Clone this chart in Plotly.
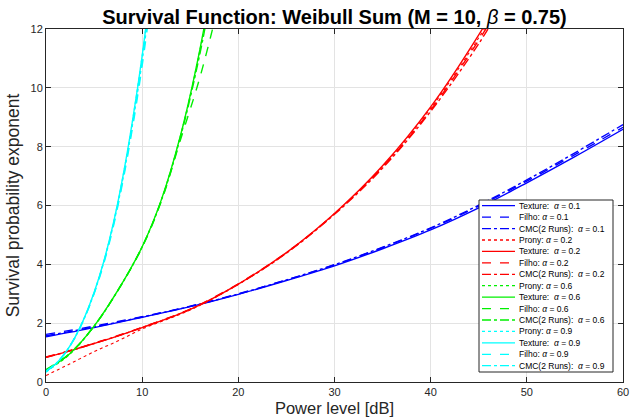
import plotly.graph_objects as go

# ---------------- data ----------------
x_blue = [0, 5, 10, 15, 20, 25, 30, 35, 40, 45, 50, 55, 60]
blue_texture = [1.54, 1.85, 2.20, 2.56, 2.98, 3.45, 3.95, 4.53, 5.17, 5.92, 6.77, 7.66, 8.59]
blue_filho   = [1.62, 1.90, 2.22, 2.58, 3.00, 3.47, 3.98, 4.57, 5.22, 5.98, 6.83, 7.73, 8.66]
blue_cmc     = [1.57, 1.87, 2.21, 2.57, 2.99, 3.47, 3.99, 4.58, 5.24, 6.01, 6.87, 7.79, 8.75]

x_red = [0, 2.5, 5, 7.5, 10, 15, 20, 25, 30, 35, 40, 45, 47.5]
red_texture = [0.84, 1.06, 1.31, 1.57, 1.85, 2.47, 3.33, 4.40, 5.73, 7.35, 9.35, 11.80, 13.20]
red_filho   = [0.85, 1.07, 1.32, 1.58, 1.86, 2.48, 3.34, 4.40, 5.72, 7.30, 9.25, 11.62, 12.95]
red_cmc     = [0.84, 1.06, 1.31, 1.57, 1.85, 2.47, 3.32, 4.38, 5.70, 7.27, 9.20, 11.50, 12.85]
red_prony   = [0.22, 0.62, 1.03, 1.40, 1.80, 2.45, 3.32, 4.39, 5.72, 7.32, 9.30, 11.70, 13.05]

x_green = [0, 2.5, 5, 7.5, 10, 12, 14, 16, 18]
green_texture = [0.40, 0.97, 1.90, 3.13, 4.60, 6.20, 8.40, 11.30, 15.00]
green_filho   = [0.42, 0.98, 1.90, 3.12, 4.58, 6.15, 8.25, 10.35, 12.90]
green_cmc     = [0.40, 0.97, 1.90, 3.13, 4.60, 6.18, 8.35, 11.15, 14.70]
green_prony   = [0.36, 0.95, 1.89, 3.12, 4.59, 6.20, 8.40, 11.28, 14.95]

x_cyan = [0, 1, 2, 3, 4, 5, 6, 7, 8, 9, 10, 11]
cyan_texture = [0.36, 0.61, 0.99, 1.51, 2.19, 3.04, 4.09, 5.39, 6.99, 8.89, 11.09, 13.69]
cyan_filho   = [0.37, 0.62, 0.99, 1.50, 2.17, 3.00, 4.02, 5.28, 6.83, 8.65, 10.75, 13.20]
cyan_cmc     = [0.36, 0.61, 0.99, 1.51, 2.18, 3.02, 4.06, 5.34, 6.91, 8.77, 10.92, 13.45]
cyan_prony   = [0.33, 0.59, 0.98, 1.51, 2.19, 3.04, 4.09, 5.39, 6.99, 8.90, 11.10, 13.70]

x_ticks = [0, 10, 20, 30, 40, 50, 60]
y_ticks = [0, 2, 4, 6, 8, 10, 12]

legend_labels = [
    "Texture:  <i>α</i> = 0.1", "Filho: <i>α</i> = 0.1", "CMC(2 Runs):  <i>α</i> = 0.1",
    "Prony: <i>α</i> = 0.2", "Texture:  <i>α</i> = 0.2", "Filho: <i>α</i> = 0.2",
    "CMC(2 Runs):  <i>α</i> = 0.2", "Prony: <i>α</i> = 0.6", "Texture:  <i>α</i> = 0.6",
    "Filho: <i>α</i> = 0.6", "CMC(2 Runs):  <i>α</i> = 0.6", "Prony: <i>α</i> = 0.9",
    "Texture:  <i>α</i> = 0.9", "Filho: <i>α</i> = 0.9", "CMC(2 Runs):  <i>α</i> = 0.9",
]

BLUE, RED, GREEN, CYAN = "#0000ff", "#ff0000", "#00f000", "#00ffff"
legend_colors = [BLUE, BLUE, BLUE, RED, RED, RED, RED, GREEN, GREEN, GREEN, GREEN,
                 CYAN, CYAN, CYAN, CYAN]
legend_dashes = ["solid", "dash", "dashdot", "dot", "solid", "dash", "dashdot", "dot",
                 "solid", "dash", "dashdot", "dot", "solid", "dash", "dashdot"]

fig = go.Figure()

def add(x, y, color, dash, width=1.4):
    fig.add_trace(go.Scatter(x=x, y=y, mode="lines", showlegend=False,
                             line=dict(color=color, dash=dash, width=width, shape="spline",
                                       smoothing=1.0)))

add(x_blue, blue_texture, BLUE, "solid")
add(x_blue, blue_filho, BLUE, "dash")
add(x_blue, blue_cmc, BLUE, "dashdot")
add(x_red, red_prony, RED, "dot", 1.1)
add(x_red, red_texture, RED, "solid")
add(x_red, red_filho, RED, "dash")
add(x_red, red_cmc, RED, "dashdot")
add(x_green, green_prony, GREEN, "dot", 1.1)
add(x_green, green_texture, GREEN, "solid")
add(x_green, green_filho, GREEN, "dash")
add(x_green, green_cmc, GREEN, "dashdot")
add(x_cyan, cyan_prony, CYAN, "dot", 1.1)
add(x_cyan, cyan_texture, CYAN, "solid")
add(x_cyan, cyan_filho, CYAN, "dash")
add(x_cyan, cyan_cmc, CYAN, "dashdot")

# ---------------- custom compact legend ----------------
L, R, T, B = 46, 623, 29, 382
W, H = R - L, B - T
def px(x): return (x - L) / W
def py(y): return (B - y) / H

shapes = [dict(type="rect", xref="paper", yref="paper",
               x0=px(479), x1=px(613), y0=py(372), y1=py(200),
               line=dict(color="#262626", width=1), fillcolor="white", layer="above")]
annotations = []
row0, step = 205.7, 11.43
for i, (lab, col, dsh) in enumerate(zip(legend_labels, legend_colors, legend_dashes)):
    yy = row0 + i * step
    shapes.append(dict(type="line", xref="paper", yref="paper",
                       x0=px(482), x1=px(515), y0=py(yy), y1=py(yy),
                       line=dict(color=col, dash=dsh, width=1.3), layer="above"))
    annotations.append(dict(xref="paper", yref="paper", x=px(517), y=py(yy),
                            text=lab, showarrow=False, xanchor="left", yanchor="middle",
                            font=dict(size=8.5, color="#000000", family="Liberation Sans")))

fig.update_layout(
    width=631, height=417,
    margin=dict(l=L, r=631 - R, t=T, b=417 - B, autoexpand=False),
    paper_bgcolor="white", plot_bgcolor="white",
    font=dict(family="Liberation Sans", color="#262626"),
    title=dict(text="<b>Survival Function: Weibull Sum (M = 10, </b><i>β</i><b> = 0.75)</b>",
               x=(L + R) / 2 / 631, xanchor="center", y=1 - 17 / 417, yanchor="middle",
               xref="container", yref="container",
               font=dict(size=20, color="#000000", family="Liberation Sans")),
    shapes=shapes, annotations=annotations,
)
fig.update_xaxes(range=[0, 60], tickvals=x_ticks, showgrid=True, gridcolor="#e3e3e3",
                 gridwidth=1, zeroline=False, showline=True, linecolor="#262626", linewidth=1,
                 mirror="ticks", ticks="inside", ticklen=5, tickcolor="#262626",
                 automargin=False,
                 tickfont=dict(size=11, color="#262626"),
                 title=dict(text="Power level [dB]", font=dict(size=16.5, color="#262626"),
                            standoff=8))
fig.update_yaxes(range=[0, 12], tickvals=y_ticks, showgrid=True, gridcolor="#e3e3e3",
                 gridwidth=1, zeroline=False, showline=True, linecolor="#262626", linewidth=1,
                 mirror="ticks", ticks="inside", ticklen=5, tickcolor="#262626",
                 automargin=False,
                 tickfont=dict(size=11, color="#262626"),
                 title=dict(text="Survival probability exponent",
                            font=dict(size=17.5, color="#262626"), standoff=6))

fig.write_html("out.html")
